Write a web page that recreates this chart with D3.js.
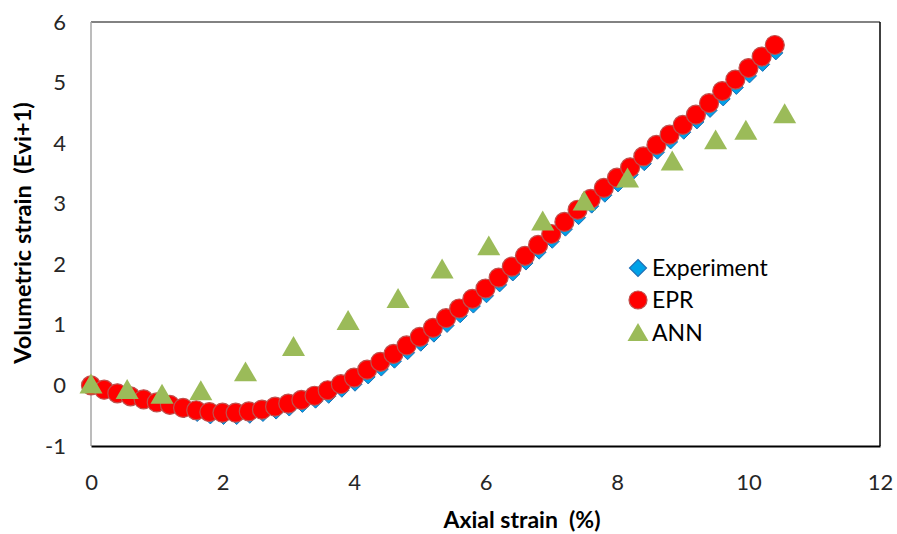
<!DOCTYPE html>
<html>
<head>
<meta charset="utf-8">
<script src="https://cdn.jsdelivr.net/npm/d3@7"></script>
<style>
  html, body { margin: 0; padding: 0; background: #fff; }
  svg { display: block; }
  text { font-family: Lato, "Open Sans", sans-serif; white-space: pre; }
</style>
</head>
<body>
<svg id="chart" width="897" height="534"></svg>
<script>
// ---- Data ----
const strainX = [0,0.2,0.4,0.6,0.8,1.0,1.2,1.4,1.6,1.8,2.0,2.2,2.4,2.6,2.8,3.0,3.2,3.4,3.6,3.8,
  4.0,4.2,4.4,4.6,4.8,5.0,5.2,5.4,5.6,5.8,6.0,6.2,6.4,6.6,6.8,7.0,7.2,7.4,7.6,7.8,
  8.0,8.2,8.4,8.6,8.8,9.0,9.2,9.4,9.6,9.8,10.0,10.2,10.4];
const eprValues = [0,-0.07,-0.13,-0.18,-0.23,-0.28,-0.32,-0.37,-0.41,-0.44,-0.45,-0.45,-0.43,-0.40,-0.35,-0.30,-0.24,-0.17,-0.08,0.02,
  0.13,0.26,0.39,0.52,0.66,0.80,0.95,1.11,1.27,1.43,1.60,1.78,1.96,2.14,2.32,2.50,2.70,2.90,3.08,3.26,
  3.43,3.60,3.78,3.97,4.14,4.30,4.47,4.66,4.86,5.05,5.24,5.43,5.62];
const expValues = [0,-0.04,-0.09,-0.14,-0.19,-0.24,-0.30,-0.42,-0.48,-0.52,-0.53,-0.53,-0.51,-0.48,-0.44,-0.39,-0.33,-0.26,-0.18,-0.08,
  0.02,0.14,0.27,0.40,0.54,0.68,0.83,0.99,1.15,1.31,1.48,1.66,1.84,2.02,2.20,2.38,2.58,2.77,2.96,3.14,
  3.31,3.48,3.66,3.85,4.02,4.18,4.35,4.54,4.73,4.92,5.11,5.30,5.49];
const annX = [0,0.55,1.08,1.67,2.35,3.08,3.91,4.67,5.34,6.05,6.87,7.5,8.16,8.84,9.5,9.96,10.55];
const annValues = [0.01,-0.08,-0.16,-0.10,0.21,0.63,1.06,1.42,1.91,2.29,2.70,3.03,3.41,3.69,4.04,4.20,4.47];
const xTicks = [0,2,4,6,8,10,12];
const yTicks = [-1,0,1,2,3,4,5,6];
const legendLabels = ["Experiment","EPR","ANN"];

// ---- Layout ----
const svg = d3.select("#chart");
const plot = {left: 91, right: 880, top: 22, bottom: 446};
const x = d3.scaleLinear().domain([0,12]).range([plot.left, plot.right]);
const y = d3.scaleLinear().domain([-1,6]).range([plot.bottom, plot.top]);

// frame
svg.append("line").attr("x1",plot.left).attr("x2",plot.right).attr("y1",plot.top).attr("y2",plot.top)
  .attr("stroke","#595959").attr("stroke-width",1.5);
svg.append("line").attr("x1",plot.right).attr("x2",plot.right).attr("y1",plot.top).attr("y2",plot.bottom)
  .attr("stroke","#000").attr("stroke-width",1.5);
svg.append("line").attr("x1",plot.left).attr("x2",plot.left).attr("y1",plot.top).attr("y2",plot.bottom)
  .attr("stroke","#A6A6A6").attr("stroke-width",1.5);

const fmt = d => String(d);
// axes
const xAxis = d3.axisBottom(x).tickValues(xTicks).tickSize(0).tickPadding(28).tickFormat(fmt);
const gx = svg.append("g").attr("transform",`translate(0,${plot.bottom})`).call(xAxis);
gx.select(".domain").attr("stroke","#000").attr("stroke-width",2);
gx.selectAll("text").attr("font-size",22).attr("fill","#262626").attr("font-family","Lato, 'Open Sans', sans-serif");

const yAxis = d3.axisLeft(y).tickValues(yTicks).tickSize(0).tickPadding(25).tickFormat(fmt);
const gy = svg.append("g").attr("transform",`translate(${plot.left},0)`).call(yAxis);
gy.select(".domain").remove();
gy.selectAll("text").attr("font-size",22).attr("fill","#262626").attr("font-family","Lato, 'Open Sans', sans-serif");

// axis titles
svg.append("text").attr("x",522).attr("y",528).attr("text-anchor","middle")
  .attr("font-size",23).attr("font-weight","bold").attr("fill","#000")
  .text("Axial strain  (%)");
svg.append("text").attr("transform","translate(31,233) rotate(-90)").attr("text-anchor","middle")
  .attr("font-size",23.5).attr("font-weight","bold").attr("fill","#000")
  .text("Volumetric strain  (Evi+1)");

// series
const diamondPath = s => `M0,${-s}L${s},0L0,${s}L${-s},0Z`;

svg.append("g").selectAll("path").data(strainX.map((d,i)=>[d,expValues[i]])).join("path")
  .attr("d",diamondPath(7)).attr("transform",d=>`translate(${x(d[0])+1},${y(d[1])})`)
  .attr("fill","#00A2E8").attr("stroke","#1F6FB5").attr("stroke-width",1);

svg.append("g").selectAll("circle").data(strainX.map((d,i)=>[d,eprValues[i]])).join("circle")
  .attr("cx",d=>x(d[0])).attr("cy",d=>y(d[1])).attr("r",9.5)
  .attr("fill","#FF0000").attr("stroke","#C0504D").attr("stroke-width",1.2);

const tri = d3.symbol().type(d3.symbolTriangle).size(230);
svg.append("g").selectAll("path").data(annX.map((d,i)=>[d,annValues[i]])).join("path")
  .attr("d",tri).attr("transform",d=>`translate(${x(d[0])},${y(d[1])+2})`)
  .attr("fill","#9BBB59");

// legend
const lg = svg.append("g");
const ly = [268, 300, 333];
lg.append("path").attr("d",diamondPath(8.5))
  .attr("transform",`translate(638,${ly[0]})`).attr("fill","#00A2E8").attr("stroke","#1F6FB5").attr("stroke-width",1.2);
lg.append("circle").attr("cx",638).attr("cy",ly[1]).attr("r",9)
  .attr("fill","#FF0000").attr("stroke","#C0504D").attr("stroke-width",1.2);
lg.append("path").attr("d",d3.symbol().type(d3.symbolTriangle).size(190)())
  .attr("transform",`translate(638,${ly[2]+2})`).attr("fill","#9BBB59");
lg.selectAll("text.leg").data(legendLabels).join("text").attr("class","leg")
  .attr("x",652).attr("y",(d,i)=>ly[i]+8).attr("font-size",23).attr("fill","#000").text(d=>d);
</script>
</body>
</html>
